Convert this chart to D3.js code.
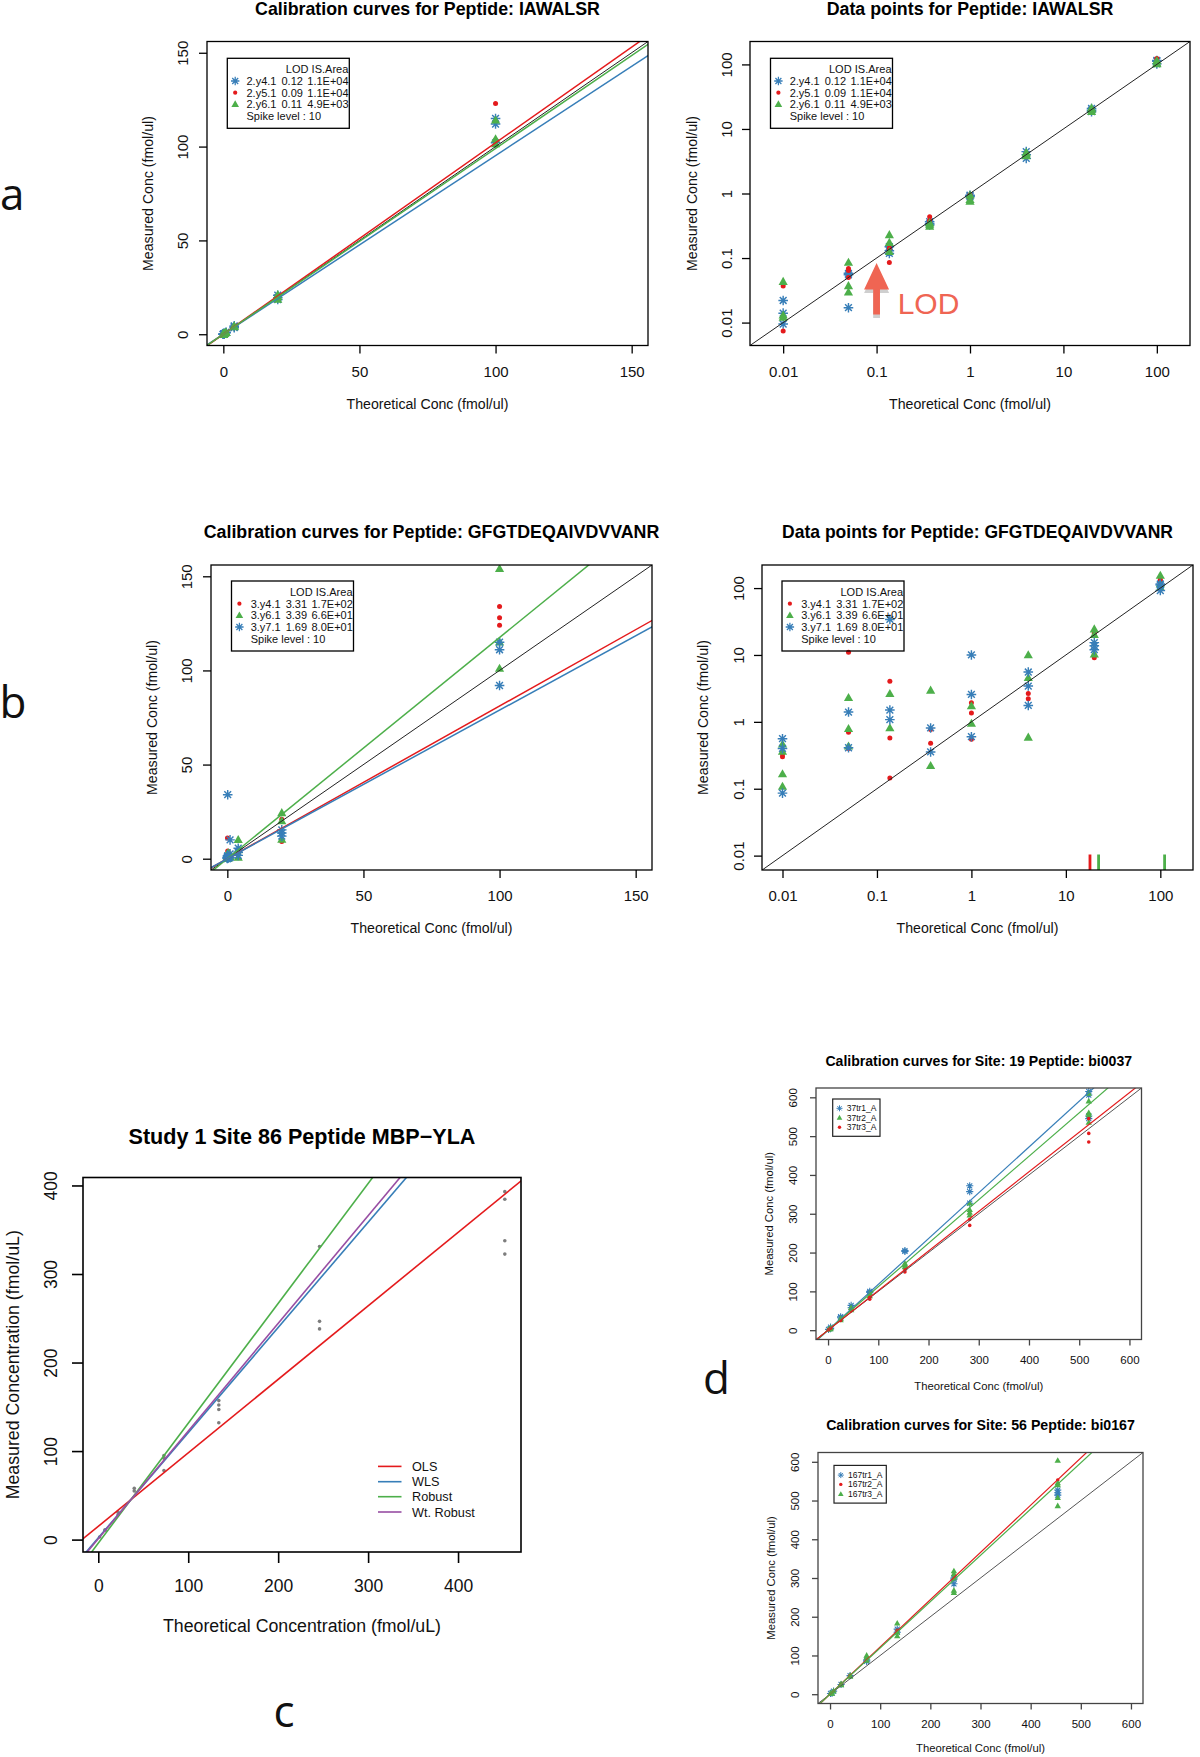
<!DOCTYPE html>
<html><head><meta charset="utf-8">
<script src="https://cdn.jsdelivr.net/npm/d3@7"></script>
<style>body{margin:0;background:#fff}svg{display:block}</style>
</head><body>
<svg id="chart" width="1200" height="1757"></svg>
<script>
// ---------------- DATA ----------------
// Panels a: peptide IAWALSR (same data shown linear and log)
const levelsA = [0.01, 0.05, 0.137, 0.37, 1, 4, 20, 100];
const namesA = ["2.y4.1", "2.y5.1", "2.y6.1"];
const lodA = ["0.12", "0.09", "0.11"];
const areaA = ["1.1E+04", "1.1E+04", "4.9E+03"];
const yA_y41 = [[0.022,0.014,0.0095],[0.058,0.055,0.017],[0.15,0.118,0.13],[0.365,0.325,0.34],[0.94,0.89,0.92],[4.45,3.5,4.0],[20.8,18.5,19.5],[115,112,102]];
const yA_y51 = [[0.037,0.0074,0.012],[0.069,0.064,0.05],[0.085,0.14,0.16],[0.437,0.38,0.35],[0.96,0.9,0.85],[3.9,4.2,3.7],[20.5,19,18.8],[123,103.5,101]];
const yA_y61 = [[0.043,0.013,0.012],[0.085,0.037,0.0295],[0.228,0.173,0.125],[0.35,0.307,0.33],[0.75,0.94,0.8],[4.1,3.8,4.3],[20,18.5,21],[114,101.4,104]];
const slopesA = [0.952, 1.02, 0.99];
const lodArrow = {x: 0.1, yTop: 0.084, yHead: 0.0327, yBottom: 0.0134, textX: 0.168};

// Panels b: peptide GFGTDEQAIVDVVANR
const levelsB = [0.01, 0.05, 0.137, 0.37, 1, 4, 20, 100];
const namesB = ["3.y4.1", "3.y6.1", "3.y7.1"];
const lodB = ["3.31", "3.39", "1.69"];
const areaB = ["1.7E+02", "6.6E+01", "8.0E+01"];
const yB_y41 = [[0.33,0.30],[11,0.70,0.40],[4.03,0.575,0.145],[0.77,0.48],[1.93,1.36,0.55],[2.66,2.21],[21,10,9.1],[134,128,124]];
const yB_y61 = [[0.46,0.36,0.166,0.108],[2.29,0.785,0.43],[2.63,0.81],[2.95,0.22],[1.72,0.94],[10,4.57,0.585],[24.3,20,10.2],[154,115,101]];
const yB_y71 = [[0.56,0.40,0.086],[1.40,0.41],[34,1.5,1.08],[0.81,0.355],[10,2.57,0.6],[5.56,3.43,1.76],[15.3,13.7,12.0],[115,111,92]];
const slopesB = [0.811, 1.175, 0.789];
const rugB = [18, 22.2, 111];
const rugBSeries = [0, 1, 1];

// Panel c: Study 1 Site 86 Peptide MBP-YLA
const levelsC = [1.5, 7.5, 22, 40, 73, 134, 246, 452];
const yC = [[3],[11,10.5],[31,28],[58,55],[95,92,78],[157,152,147,132],[331,246.5,238],[393,384.5,337.6,322.5]];
const fitNamesC = ["OLS", "WLS", "Robust", "Wt. Robust"];
const interceptsC = [15, 2, -4, 1];
const slopesC = [0.83, 1.188, 1.354, 1.216];

// Panel d (top): Site 19 Peptide bi0037
const levelsD1 = [1, 5, 25, 46, 83, 153, 282, 519];
const namesD1 = ["37tr1_A", "37tr2_A", "37tr3_A"];
const yD1_tr1 = [[2],[8,4],[34.5,32],[64,58],[100,97],[203,205],[372,357,327],[615,606,552,545]];
const yD1_tr2 = [[2],[6,3],[30,26],[58,52],[95,88],[172,168,163],[327,310,303,296],[610,590,560,555,535]];
const yD1_tr3 = [[1],[5],[25],[50],[80,85],[150,155],[285,270],[545,507,485]];
const slopesD1 = [1.18, 1.12, 1.02];

// Panel d (bottom): Site 56 Peptide bi0167
const levelsD2 = [1, 4, 7, 22, 40, 73, 134, 247, 454];
const namesD2 = ["167tr1_A", "167tr2_A", "167tr3_A"];
const yD2_tr1 = [[2],[3],[8],[25],[48],[88,85],[168,160],[300,297,285],[527,520,514]];
const yD2_tr2 = [[1],[4],[7],[26],[49],[95],[165],[308],[553]];
const yD2_tr3 = [[2],[2],[8],[27,24],[48,46],[100,95,87],[183,160,150],[318,310,300,268,262],[603,545,540,507,486]];
const slopesD2 = [1.0, 1.22, 1.195];

// ticks
const linTicks150 = [0, 50, 100, 150];
const logTicks = [0.01, 0.1, 1, 10, 100];
const logTickLabels = ["0.01", "0.1", "1", "10", "100"];
const ticksC = [0, 100, 200, 300, 400];
const ticksD = [0, 100, 200, 300, 400, 500, 600];

// ---------------- STYLE ----------------
const FONT = '"Liberation Sans", Arial, Helvetica, sans-serif';
const BLUE = "#377EB8", RED = "#E41A1C", GREEN = "#4DAF4A", PURPLE = "#984EA3";
const svg = d3.select("#chart");
svg.append("rect").attr("width", 1200).attr("height", 1757).attr("fill", "#fff");

function fitText(sel, target) {
  const w = sel.node().getComputedTextLength();
  const fs = parseFloat(sel.attr("font-size"));
  if (w > 0) sel.attr("font-size", (fs * target / w).toFixed(2));
  return sel;
}

function marker(g, shape, color, cx, cy, s) {
  if (shape === "star") {
    const d = s * 0.7071;
    g.append("path")
      .attr("d", `M${cx - s},${cy}L${cx + s},${cy}M${cx},${cy - s}L${cx},${cy + s}M${cx - d},${cy - d}L${cx + d},${cy + d}M${cx - d},${cy + d}L${cx + d},${cy - d}`)
      .attr("stroke", color).attr("stroke-width", Math.max(1, s * 0.3)).attr("fill", "none");
  } else if (shape === "dot") {
    g.append("circle").attr("cx", cx).attr("cy", cy).attr("r", s * 0.5).attr("fill", color);
  } else {
    const h = s * 1.0;
    g.append("path")
      .attr("d", `M${cx},${cy - h * 1.05}L${cx + h},${cy + h * 0.7}L${cx - h},${cy + h * 0.7}Z`)
      .attr("fill", color);
  }
}

let clipN = 0;
function panel(p) {
  const g = svg.append("g");
  const x = (p.xLog ? d3.scaleLog() : d3.scaleLinear()).domain(p.xDom).range([p.L, p.R]);
  const y = (p.yLog ? d3.scaleLog() : d3.scaleLinear()).domain(p.yDom).range([p.B, p.T]);
  const cid = "clip" + (clipN++);
  svg.append("clipPath").attr("id", cid).append("rect")
    .attr("x", p.L).attr("y", p.T).attr("width", p.R - p.L).attr("height", p.B - p.T);

  // points
  const pg = g.append("g").attr("clip-path", `url(#${cid})`);
  p.series.forEach(s => {
    s.ys.forEach((vals, i) => {
      vals.forEach(v => marker(pg, s.shape, s.color, x(p.levels[i]), y(v), p.markerSize[s.shape]));
    });
  });

  // lines
  const lg = g.append("g").attr("clip-path", `url(#${cid})`);
  const line = d3.line().x(d => x(d[0])).y(d => y(d[1]));
  (p.lines || []).forEach(l => {
    const x0 = p.xDom[0] * (p.xLog ? 0.5 : 1) - (p.xLog ? 0 : 10);
    const x1 = p.xDom[1] * (p.xLog ? 2 : 1) + (p.xLog ? 0 : 10);
    lg.append("path").attr("d", line([[x0, l.a + l.b * x0], [x1, l.a + l.b * x1]]))
      .attr("stroke", l.color).attr("stroke-width", l.w).attr("fill", "none");
  });
  // rug ticks
  (p.rug || []).forEach(r => {
    lg.append("line").attr("x1", x(r.x)).attr("x2", x(r.x)).attr("y1", p.B).attr("y2", p.B - p.rugLen)
      .attr("stroke", r.color).attr("stroke-width", 2.8);
  });

  // box
  g.append("rect").attr("x", p.L).attr("y", p.T).attr("width", p.R - p.L).attr("height", p.B - p.T)
    .attr("fill", "none").attr("stroke", p.boxColor || "#000").attr("stroke-width", p.boxW || 1.3);

  // axes
  const xa = d3.axisBottom(x).tickValues(p.xTicks).tickFormat((d, i) => p.xLabels[i]).tickSize(p.tickLen);
  g.append("g").attr("transform", `translate(0,${p.B})`).call(xa).call(a => {
    a.select(".domain").remove();
    a.attr("font-family", FONT).attr("font-size", p.tickFs);
    a.selectAll("line").attr("stroke", p.boxColor || "#000").attr("stroke-width", p.boxW || 1.3);
    a.selectAll("text").attr("y", p.xLabOff).attr("dy", null).attr("fill", "#111");
  });
  const ya = d3.axisLeft(y).tickValues(p.yTicks).tickFormat((d, i) => p.yLabels[i]).tickSize(p.tickLen);
  g.append("g").attr("transform", `translate(${p.L},0)`).call(ya).call(a => {
    a.select(".domain").remove();
    a.attr("font-family", FONT).attr("font-size", p.tickFs);
    a.selectAll("line").attr("stroke", p.boxColor || "#000").attr("stroke-width", p.boxW || 1.3);
    a.selectAll("text").attr("x", null).attr("dy", null).attr("text-anchor", "middle")
      .attr("transform", `translate(${-p.yLabOff},0) rotate(-90)`).attr("fill", "#111");
  });

  // titles
  const cx = (p.L + p.R) / 2;
  fitText(g.append("text").attr("x", cx).attr("y", p.titleY).attr("text-anchor", "middle")
    .attr("font-family", FONT).attr("font-weight", "bold").attr("font-size", 16).attr("fill", "#000").text(p.title), p.titleW);
  const xt = g.append("text").attr("x", cx).attr("y", p.xTitleY).attr("text-anchor", "middle")
    .attr("font-family", FONT).attr("font-size", 14).attr("fill", "#111").text(p.xTitle);
  fitText(xt, p.xTitleW);
  g.append("text").attr("transform", `translate(${p.yTitleX},${(p.T + p.B) / 2}) rotate(-90)`)
    .attr("text-anchor", "middle").attr("font-family", FONT).attr("font-size", xt.attr("font-size"))
    .attr("fill", "#111").text(p.yTitle);
  return {g, x, y};
}

function legendTable(g, L, T, W, H, series, header, spike, fs) {
  g.append("rect").attr("x", L).attr("y", T).attr("width", W).attr("height", H)
    .attr("fill", "none").attr("stroke", "#000").attr("stroke-width", 1.3);
  const rows = [11, 22.7, 34.4, 46, 57.7].map(v => v * H / 70);
  const t = (x, y, s, anchor) => g.append("text").attr("x", x).attr("y", y + fs * 0.36)
    .attr("font-family", FONT).attr("font-size", fs).attr("fill", "#111")
    .attr("text-anchor", anchor || "start").text(s);
  t(L + 58.5, T + rows[0], header[0]);
  t(L + W - 1, T + rows[0], header[1], "end");
  series.forEach((s, i) => {
    marker(g, s.shape, s.color, L + 7.9, T + rows[i + 1], s.shape === "star" ? 4.2 : s.shape === "dot" ? 4.2 : 3.8);
    t(L + 19.2, T + rows[i + 1], s.name);
    t(L + 54.2, T + rows[i + 1], s.lod);
    t(L + 80, T + rows[i + 1], s.area);
  });
  t(L + 19.2, T + rows[4], spike);
}

function legendSimple(g, L, T, W, H, series, rows, fs) {
  g.append("rect").attr("x", L).attr("y", T).attr("width", W).attr("height", H)
    .attr("fill", "none").attr("stroke", "#222").attr("stroke-width", 1.2);
  series.forEach((s, i) => {
    marker(g, s.shape, s.color, L + 6.8, T + rows[i], s.shape === "star" ? 3 : s.shape === "dot" ? 3.4 : 2.8);
    g.append("text").attr("x", L + 14).attr("y", T + rows[i] + fs * 0.36)
      .attr("font-family", FONT).attr("font-size", fs).attr("fill", "#111").text(s.name);
  });
}

// ---------------- PANEL A ----------------
const shapesA = ["star", "dot", "tri"], colorsA = [BLUE, RED, GREEN];
const seriesA = [yA_y41, yA_y51, yA_y61].map((ys, i) => ({
  name: namesA[i], lod: lodA[i], area: areaA[i], ys, shape: shapesA[i], color: colorsA[i]
}));
const mkAB = {star: 4.8, dot: 5, tri: 4.6};
const yLabelA = "Measured Conc (fmol/ul)", xLabelA = "Theoretical Conc (fmol/ul)";

const A1 = panel({
  L: 207, R: 648, T: 41.5, B: 345.5, xDom: [-6, 156], yDom: [-6, 156],
  levels: levelsA, series: seriesA, markerSize: mkAB,
  lines: [
    {a: 0, b: 1, color: "#222", w: 1},
    ...slopesA.map((b, i) => ({a: 0, b, color: colorsA[i], w: 1.5}))
  ],
  xTicks: linTicks150, xLabels: linTicks150.map(String), yTicks: linTicks150, yLabels: linTicks150.map(String),
  tickLen: 8, tickFs: 15, xLabOff: 31, yLabOff: 19,
  title: "Calibration curves for Peptide: IAWALSR", titleY: 15, titleW: 345,
  xTitle: xLabelA, xTitleY: 409, xTitleW: 162, yTitle: yLabelA, yTitleX: 153
});
legendTable(A1.g, 227.3, 58.3, 122, 70, seriesA, ["LOD", "IS.Area"], "Spike level : 10", 11);

const logDomA = [Math.pow(10, -2.355), Math.pow(10, 2.355)];
const A2 = panel({
  L: 750, R: 1190, T: 41.5, B: 345.5, xLog: true, yLog: true, xDom: logDomA, yDom: logDomA,
  levels: levelsA, series: seriesA, markerSize: mkAB,
  lines: [{a: 0, b: 1, color: "#222", w: 1}],
  xTicks: logTicks, xLabels: logTickLabels, yTicks: logTicks, yLabels: logTickLabels,
  tickLen: 8, tickFs: 15, xLabOff: 31, yLabOff: 18,
  title: "Data points for Peptide: IAWALSR", titleY: 15, titleW: 287,
  xTitle: xLabelA, xTitleY: 409, xTitleW: 162, yTitle: yLabelA, yTitleX: 697
});
legendTable(A2.g, 770.5, 58.3, 122, 70, seriesA, ["LOD", "IS.Area"], "Spike level : 10", 11);
// LOD arrow annotation
(function () {
  const ax = A2.x(lodArrow.x), yt = A2.y(lodArrow.yTop), yh = A2.y(lodArrow.yHead), yb = A2.y(lodArrow.yBottom);
  const hw = 12.5, sw = 3.4;
  const pts = [[ax, yt], [ax + hw, yh], [ax + sw, yh], [ax + sw, yb], [ax - sw, yb], [ax - sw, yh], [ax - hw, yh]];
  const pathD = "M" + pts.map(p => p.join(",")).join("L") + "Z";
  A2.g.append("path").attr("d", pathD).attr("transform", "translate(0,3.5)").attr("fill", "#cfcfcf");
  A2.g.append("path").attr("d", pathD).attr("fill", "#EF6553");
  A2.g.append("text").attr("x", A2.x(lodArrow.textX)).attr("y", yb).attr("font-family", FONT)
    .attr("font-size", 30).attr("fill", "#EF6553").text("LOD");
})();

// ---------------- PANEL B ----------------
const shapesB = ["dot", "tri", "star"], colorsB = [RED, GREEN, BLUE];
const seriesB = [yB_y41, yB_y61, yB_y71].map((ys, i) => ({
  name: namesB[i], lod: lodB[i], area: areaB[i], ys, shape: shapesB[i], color: colorsB[i]
}));
const B1 = panel({
  L: 211, R: 652, T: 565, B: 870, xDom: [-6, 156], yDom: [-6, 156],
  levels: levelsB, series: seriesB, markerSize: mkAB,
  lines: [
    {a: 0, b: 1, color: "#222", w: 1},
    ...slopesB.map((b, i) => ({a: 0, b, color: colorsB[i], w: 1.5}))
  ],
  xTicks: linTicks150, xLabels: linTicks150.map(String), yTicks: linTicks150, yLabels: linTicks150.map(String),
  tickLen: 8, tickFs: 15, xLabOff: 31, yLabOff: 19,
  title: "Calibration curves for Peptide: GFGTDEQAIVDVVANR", titleY: 538, titleW: 456,
  xTitle: xLabelA, xTitleY: 933, xTitleW: 162, yTitle: yLabelA, yTitleX: 157
});
legendTable(B1.g, 231.5, 581, 122, 70, seriesB, ["LOD", "IS.Area"], "Spike level : 10", 11);

const B2 = panel({
  L: 762, R: 1193, T: 565, B: 870, xLog: true, yLog: true,
  xDom: [Math.pow(10, -2.217), Math.pow(10, 2.346)], yDom: [Math.pow(10, -2.215), Math.pow(10, 2.345)],
  levels: levelsB, series: seriesB, markerSize: mkAB,
  lines: [{a: 0, b: 1, color: "#222", w: 1}],
  rug: rugB.map((v, i) => ({x: v, color: colorsB[rugBSeries[i]]})), rugLen: 15.5,
  xTicks: logTicks, xLabels: logTickLabels, yTicks: logTicks, yLabels: logTickLabels,
  tickLen: 8, tickFs: 15, xLabOff: 31, yLabOff: 18,
  title: "Data points for Peptide: GFGTDEQAIVDVVANR", titleY: 538, titleW: 391,
  xTitle: xLabelA, xTitleY: 933, xTitleW: 162, yTitle: yLabelA, yTitleX: 708
});
legendTable(B2.g, 782, 581, 122, 70, seriesB, ["LOD", "IS.Area"], "Spike level : 10", 11);

// ---------------- PANEL C ----------------
const colorsC = [RED, BLUE, GREEN, PURPLE];
const C = panel({
  L: 83, R: 521, T: 1177.5, B: 1552, xDom: [-17, 470], yDom: [-14, 409],
  levels: levelsC, series: [{ys: yC, shape: "dot", color: "#7d7d7d"}], markerSize: {dot: 3.6},
  lines: interceptsC.map((a, i) => ({a, b: slopesC[i], color: colorsC[i], w: 1.6})),
  xTicks: ticksC, xLabels: ticksC.map(String), yTicks: ticksC, yLabels: ticksC.map(String),
  tickLen: 11, tickFs: 17.5, xLabOff: 40, yLabOff: 26, boxW: 1.6,
  title: "Study 1 Site 86 Peptide MBP\u2212YLA", titleY: 1143.5, titleW: 347,
  xTitle: "Theoretical Concentration (fmol/uL)", xTitleY: 1632, xTitleW: 278,
  yTitle: "Measured Concentration (fmol/uL)", yTitleX: 19
});
(function () {
  const rows = [1466.4, 1481.7, 1496.7, 1512];
  fitNamesC.forEach((n, i) => {
    C.g.append("line").attr("x1", 378).attr("x2", 401.5).attr("y1", rows[i]).attr("y2", rows[i])
      .attr("stroke", colorsC[i]).attr("stroke-width", 1.6);
    C.g.append("text").attr("x", 412).attr("y", rows[i] + 4.6).attr("font-family", FONT)
      .attr("font-size", 12.7).attr("fill", "#111").text(n);
  });
})();

// ---------------- PANEL D ----------------
const mkD = {star: 3.6, dot: 3.6, tri: 3.2};
const shapesD1 = ["star", "tri", "dot"], colorsD1 = [BLUE, GREEN, RED];
const seriesD1 = [yD1_tr1, yD1_tr2, yD1_tr3].map((ys, i) => ({name: namesD1[i], ys, shape: shapesD1[i], color: colorsD1[i]}));
const yLabelD = "Measured Conc (fmol/ul)", xLabelD = "Theoretical Conc (fmol/ul)";
const D1 = panel({
  L: 816, R: 1141.5, T: 1088, B: 1339.5, xDom: [-24, 624], yDom: [-24, 624],
  levels: levelsD1, series: seriesD1, markerSize: mkD,
  lines: [
    {a: 0, b: 1, color: "#555", w: 1},
    ...slopesD1.map((b, i) => ({a: 0, b, color: colorsD1[i], w: 1.2}))
  ],
  xTicks: ticksD, xLabels: ticksD.map(String), yTicks: ticksD, yLabels: ticksD.map(String),
  tickLen: 6, tickFs: 11.5, xLabOff: 24.5, yLabOff: 19, boxColor: "#444", boxW: 1.3,
  title: "Calibration curves for Site: 19 Peptide: bi0037", titleY: 1066, titleW: 307,
  xTitle: xLabelD, xTitleY: 1390, xTitleW: 129, yTitle: yLabelD, yTitleX: 773
});
legendSimple(D1.g, 832.7, 1099, 47.3, 37.3, seriesD1, [9.3, 18.7, 28.3], 8.5);

const shapesD2 = ["star", "dot", "tri"], colorsD2 = [BLUE, RED, GREEN];
const seriesD2 = [yD2_tr1, yD2_tr2, yD2_tr3].map((ys, i) => ({name: namesD2[i], ys, shape: shapesD2[i], color: colorsD2[i]}));
const D2 = panel({
  L: 818, R: 1143, T: 1452.5, B: 1703.5, xDom: [-24, 624], yDom: [-24, 624],
  levels: levelsD2, series: seriesD2, markerSize: mkD,
  lines: [
    {a: 0, b: 1, color: "#555", w: 1},
    ...[1, 2].map(i => ({a: 0, b: slopesD2[i], color: colorsD2[i], w: 1.2}))
  ],
  xTicks: ticksD, xLabels: ticksD.map(String), yTicks: ticksD, yLabels: ticksD.map(String),
  tickLen: 6, tickFs: 11.5, xLabOff: 24.5, yLabOff: 19, boxColor: "#444", boxW: 1.3,
  title: "Calibration curves for Site: 56 Peptide: bi0167", titleY: 1430, titleW: 309,
  xTitle: xLabelD, xTitleY: 1752, xTitleW: 129, yTitle: yLabelD, yTitleX: 775
});
legendSimple(D2.g, 834, 1465.4, 52.3, 37.7, seriesD2, [9.7, 19, 28.7], 8.5);

// ---------------- panel letters ----------------
const LETTER_FONT = '"Open Sans", "Noto Sans", Arial, sans-serif';
[["a", 12.3, 210], ["b", 13, 718], ["c", 284, 1727], ["d", 716.5, 1394]].forEach(([t, x, y]) => {
  svg.append("text").attr("x", x).attr("y", y).attr("text-anchor", "middle")
    .attr("font-family", LETTER_FONT).attr("font-size", 44).attr("fill", "#111").text(t);
});
</script>
</body></html>
